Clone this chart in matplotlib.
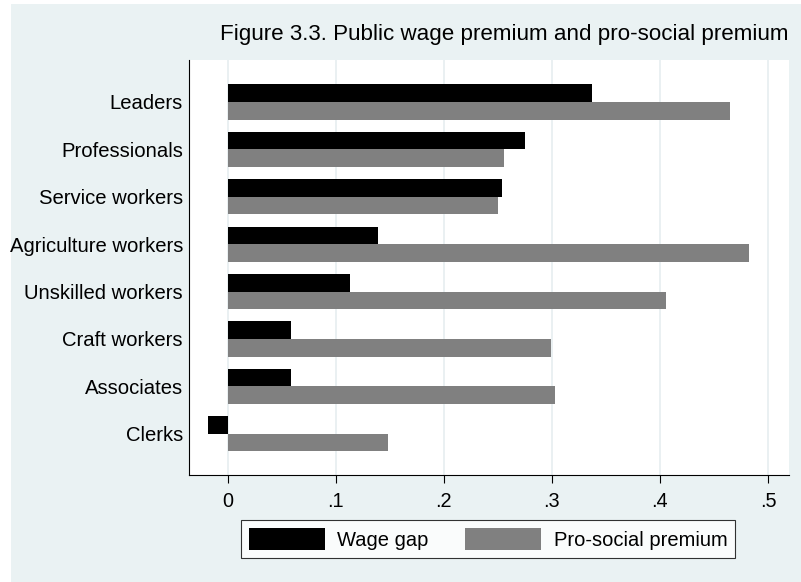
import numpy as np
import matplotlib
matplotlib.use('Agg')
import matplotlib.pyplot as plt
from matplotlib.patches import Rectangle, Patch

plt.rcParams['font.family'] = ['Liberation Sans', 'DejaVu Sans']

# occupations, top to bottom
groups = ['Leaders', 'Professionals', 'Service workers', 'Agriculture workers',
          'Unskilled workers', 'Craft workers', 'Associates', 'Clerks']
wage_gap = [0.337, 0.275, 0.254, 0.139, 0.113, 0.059, 0.059, -0.018]
prosocial = [0.465, 0.256, 0.250, 0.482, 0.406, 0.299, 0.303, 0.148]
xticks = [0, 0.1, 0.2, 0.3, 0.4, 0.5]
xticklabels = ['0', '.1', '.2', '.3', '.4', '.5']

bg = '#eaf2f3'

fig = plt.figure(figsize=(8.01, 5.82), dpi=100, facecolor='white')
# stata-ish graph region (little white margin left/top)
fig.patches.append(Rectangle((11 / 801, 0), 1, 1 - 4 / 582, transform=fig.transFigure,
                             facecolor=bg, edgecolor='none', zorder=-10))

ax = fig.add_axes([188.5 / 801, 1 - 475 / 582, (789 - 188.5) / 801, (475 - 60) / 582])
ax.set_facecolor('white')

y = np.arange(len(groups))
h = 0.373
ax.barh(y - h / 2, wage_gap, height=h, color='black', zorder=3)
ax.barh(y + h / 2, prosocial, height=h, color='#808080', zorder=3)

ax.set_ylim(7.87, -0.886)
ax.set_xlim(-0.0361, 0.5194)

ax.set_xticks(xticks)
ax.set_xticklabels(xticklabels)
ax.set_yticks(y)
ax.set_yticklabels(groups)
ax.tick_params(axis='x', length=6, width=0.8, pad=6, labelsize=14.3)
ax.tick_params(axis='y', length=0, pad=4, labelsize=14.6)

ax.grid(axis='x', color='#e6eef0', linewidth=1.2, zorder=0)
ax.set_axisbelow(True)

for side in ['top', 'right']:
    ax.spines[side].set_visible(False)
for side in ['left', 'bottom']:
    ax.spines[side].set_color('black')
    ax.spines[side].set_linewidth(0.8)

fig.text(788 / 801, 1 - 40 / 582, 'Figure 3.3. Public wage premium and pro-social premium',
         ha='right', va='baseline', fontsize=16.1)

handles = [Patch(facecolor='black', label='Wage gap'),
           Patch(facecolor='#808080', label='Pro-social premium')]
leg = fig.legend(handles=handles, loc='center', bbox_to_anchor=(488 / 801, 1 - 539 / 582),
                 ncol=2, fontsize=14.5, frameon=True, fancybox=False, edgecolor='black',
                 handlelength=3.8, handleheight=1.35, handletextpad=0.6,
                 columnspacing=1.8, borderpad=0.4, borderaxespad=0)
leg.get_frame().set_linewidth(0.8)
leg.get_frame().set_facecolor('white')

fig.savefig('out.png', dpi=100, facecolor=fig.get_facecolor())
